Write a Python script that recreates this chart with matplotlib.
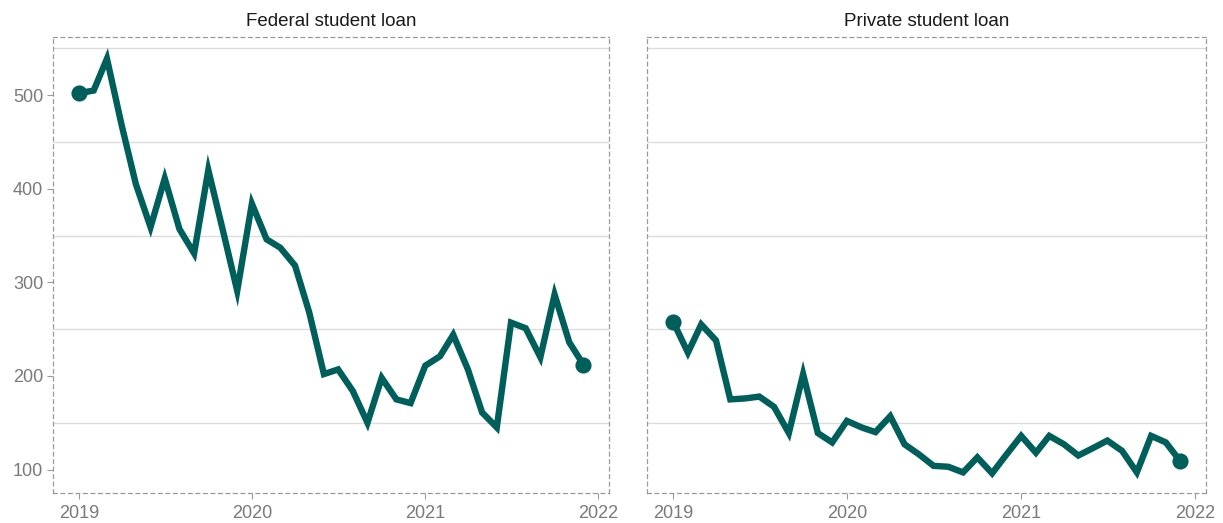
import numpy as np
import pandas as pd
import matplotlib
matplotlib.use("Agg")
import matplotlib.pyplot as plt
import matplotlib.dates as mdates

# monthly values, Jan 2019 - Dec 2021
months = pd.date_range("2019-01-01", "2021-12-01", freq="MS")

federal = [502, 505, 539, 468, 405, 359, 411, 357, 331, 420, 355, 291,
           384, 346, 337, 318, 268, 202, 207, 184, 150, 198, 175, 171,
           211, 221, 244, 207, 161, 145, 257, 251, 220, 287, 236, 212]

private = [258, 225, 255, 238, 175, 176, 178, 167, 139, 202, 139, 129,
           152, 145, 140, 157, 127, 116, 104, 103, 97, 113, 96, 116,
           136, 118, 136, 127, 115, 123, 131, 120, 97, 136, 129, 109]

titles = ["Federal student loan", "Private student loan"]
series = [federal, private]

line_color = "#005F5A"
frame_color = "#9a9a9a"
grid_color = "#dcdcdc"
text_color = "#7a7a7a"

plt.rcParams["font.family"] = "Liberation Sans"

fig = plt.figure(figsize=(12.23, 5.23), dpi=100)
ax1 = fig.add_axes([0.0433, 0.0574, 0.4547, 0.8716])
ax2 = fig.add_axes([0.529, 0.0574, 0.4570, 0.8716], sharey=ax1)

xmin = pd.Timestamp("2018-11-07")
xmax = pd.Timestamp("2022-01-24")

for ax, title, vals in zip([ax1, ax2], titles, series):
    ax.plot(months, vals, color=line_color, lw=4.6, solid_joinstyle="miter",
            solid_capstyle="butt", zorder=3)
    ax.scatter([months[0], months[-1]], [vals[0], vals[-1]], s=135,
               color=line_color, zorder=4, linewidths=0)
    ax.set_title(title, fontsize=13.5, color="#1a1a1a", pad=8)
    ax.set_xlim(xmin, xmax)
    ax.set_ylim(75, 562)

    ax.xaxis.set_major_locator(mdates.YearLocator())
    ax.xaxis.set_major_formatter(mdates.DateFormatter("%Y"))
    ax.set_yticks([100, 200, 300, 400, 500])
    ax.set_yticks([150, 250, 350, 450, 550], minor=True)
    ax.grid(True, which="minor", axis="y", color=grid_color, lw=1, zorder=0)
    ax.tick_params(which="minor", length=0)
    ax.tick_params(which="major", colors=frame_color, labelcolor=text_color,
                   labelsize=13, length=4, width=0.8, pad=3)
    ax.tick_params(axis="x", pad=5)

    for sp in ax.spines.values():
        sp.set_linestyle((0, (3, 3)))
        sp.set_color(frame_color)
        sp.set_linewidth(0.9)

ax2.tick_params(axis="y", which="both", left=False, labelleft=False)

fig.savefig("out.png", dpi=100)
